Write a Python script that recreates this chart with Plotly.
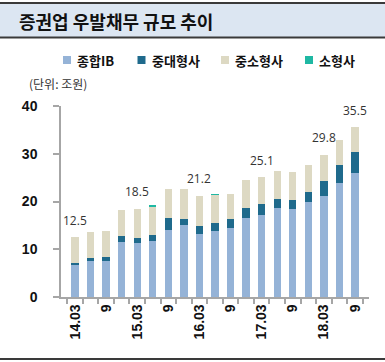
import plotly.graph_objects as go

quarters = ["14.03", "14.06", "14.09", "14.12",
            "15.03", "15.06", "15.09", "15.12",
            "16.03", "16.06", "16.09", "16.12",
            "17.03", "17.06", "17.09", "17.12",
            "18.03", "18.06", "18.09"]
tick_labels = ["14.03", "", "9", "",
               "15.03", "", "9", "",
               "16.03", "", "9", "",
               "17.03", "", "9", "",
               "18.03", "", "9"]

ib_large = [6.7, 7.5, 7.6, 11.6, 11.3, 11.7, 14.1, 15.0, 13.2, 13.9, 14.4, 16.65, 17.1, 18.6, 18.4, 19.9, 21.25, 23.9, 25.9]
mid_large = [0.5, 0.65, 0.8, 1.15, 1.1, 1.3, 2.5, 1.4, 1.6, 1.7, 2.0, 2.05, 2.3, 2.0, 1.95, 2.1, 3.05, 3.8, 4.4]
mid_small = [5.3, 5.45, 5.4, 5.5, 6.1, 6.0, 6.0, 6.2, 6.4, 5.8, 5.2, 5.7, 5.7, 5.8, 5.75, 5.7, 5.5, 5.2, 5.2]
small = [0, 0, 0, 0, 0, 0.3, 0, 0, 0, 0.1, 0, 0, 0, 0, 0, 0, 0, 0, 0]

label_quarters = ["14.03", "15.03", "16.03", "17.03", "18.03", "18.09"]
label_values = [12.5, 18.5, 21.2, 25.1, 29.8, 35.5]

series_names = ["종합IB", "중대형사", "중소형사", "소형사"]
series_values = [ib_large, mid_large, mid_small, small]
series_colors = ["#95b3d7", "#1f6a8c", "#ddd9c3", "#1fb8a3"]

W, H = 385, 362
L, R, T, B = 61, 16, 106, 65
PW, PH = W - L - R, H - T - B


def px_x(px):
    return (px - L) / PW


def px_y(py):
    return (H - B - py) / PH


fig = go.Figure()
for name, vals, color in zip(series_names, series_values, series_colors):
    fig.add_trace(go.Bar(x=quarters, y=vals, name=name, marker_color=color,
                         marker_line_width=0, showlegend=False))

base_font = "Liberation Sans, Noto Sans CJK KR, sans-serif"
kr_font = "Noto Sans CJK KR, sans-serif"

# total labels
for q, v in zip(label_quarters, label_values):
    fig.add_annotation(x=quarters.index(q), y=v, text=f"{v:.1f}", showarrow=False,
                       yanchor="middle", yshift=17,
                       font=dict(family="Open Sans, Liberation Sans, sans-serif", size=12, color="#333333"))

# legend (drawn as swatches + text)
legend_left_px = [63, 137.5, 221, 305]
for xpx, name, color in zip(legend_left_px, series_names, series_colors):
    fig.add_shape(type="rect", xref="paper", yref="paper",
                  x0=px_x(xpx), x1=px_x(xpx + 8), y0=px_y(64), y1=px_y(56),
                  fillcolor=color, line_width=0)
    fig.add_annotation(xref="paper", yref="paper", x=px_x(xpx + 12), y=px_y(60),
                       xanchor="left", yanchor="middle", showarrow=False,
                       text=f"<b>{name}</b>",
                       font=dict(family=kr_font, size=13, color="#111111"))

# title band
fig.add_shape(type="rect", xref="paper", yref="paper", x0=px_x(-5), x1=px_x(W + 5),
              y0=px_y(37.5), y1=px_y(3),
              fillcolor="#dce6f2", line_width=0, layer="below")
for yy in (3, 37.5, 359):
    fig.add_shape(type="line", xref="paper", yref="paper", x0=px_x(-5), x1=px_x(W + 5),
                  y0=px_y(yy), y1=px_y(yy),
                  line=dict(color="#3a3a3a", width=2))

fig.add_annotation(xref="paper", yref="paper", x=px_x(17), y=px_y(21),
                   xanchor="left", yanchor="middle", showarrow=False,
                   text="<b>증권업 우발채무 규모 추이</b>",
                   font=dict(family=kr_font, size=18, color="#111111"))
fig.add_annotation(xref="paper", yref="paper", x=px_x(27), y=px_y(83),
                   xanchor="left", yanchor="middle", showarrow=False,
                   text="(단위: 조원)",
                   font=dict(family=kr_font, size=12, color="#333333"))

fig.update_layout(
    width=W, height=H,
    margin=dict(l=L, r=R, t=T, b=B, autoexpand=False),
    paper_bgcolor="white", plot_bgcolor="white",
    barmode="stack", bargap=0.53,
    showlegend=False,
    yaxis=dict(range=[0, 40], tickvals=[0, 10, 20, 30, 40], showgrid=False,
               showline=True, linecolor="#a6a6a6", linewidth=1.5,
               ticks="outside", ticklen=6, tickcolor="#a6a6a6", tickwidth=1.5,
               ticklabelstandoff=13,
               tickfont=dict(family=base_font, size=14, color="#111111", weight="bold"),
               zeroline=False, automargin=False),
    xaxis=dict(type="category", tickmode="array", tickvals=quarters, ticktext=tick_labels,
               tickson="boundaries", tickangle=-90, showgrid=False,
               showline=True, linecolor="#a6a6a6", linewidth=1.5,
               ticks="outside", ticklen=5, tickcolor="#a6a6a6", tickwidth=1.5,
               tickfont=dict(family=base_font, size=14, color="#111111", weight="bold"),
               automargin=False),
)

fig.write_html("out.html", config={"displayModeBar": False},
               post_script="document.body.style.margin='0px';document.body.style.overflow='hidden';")
